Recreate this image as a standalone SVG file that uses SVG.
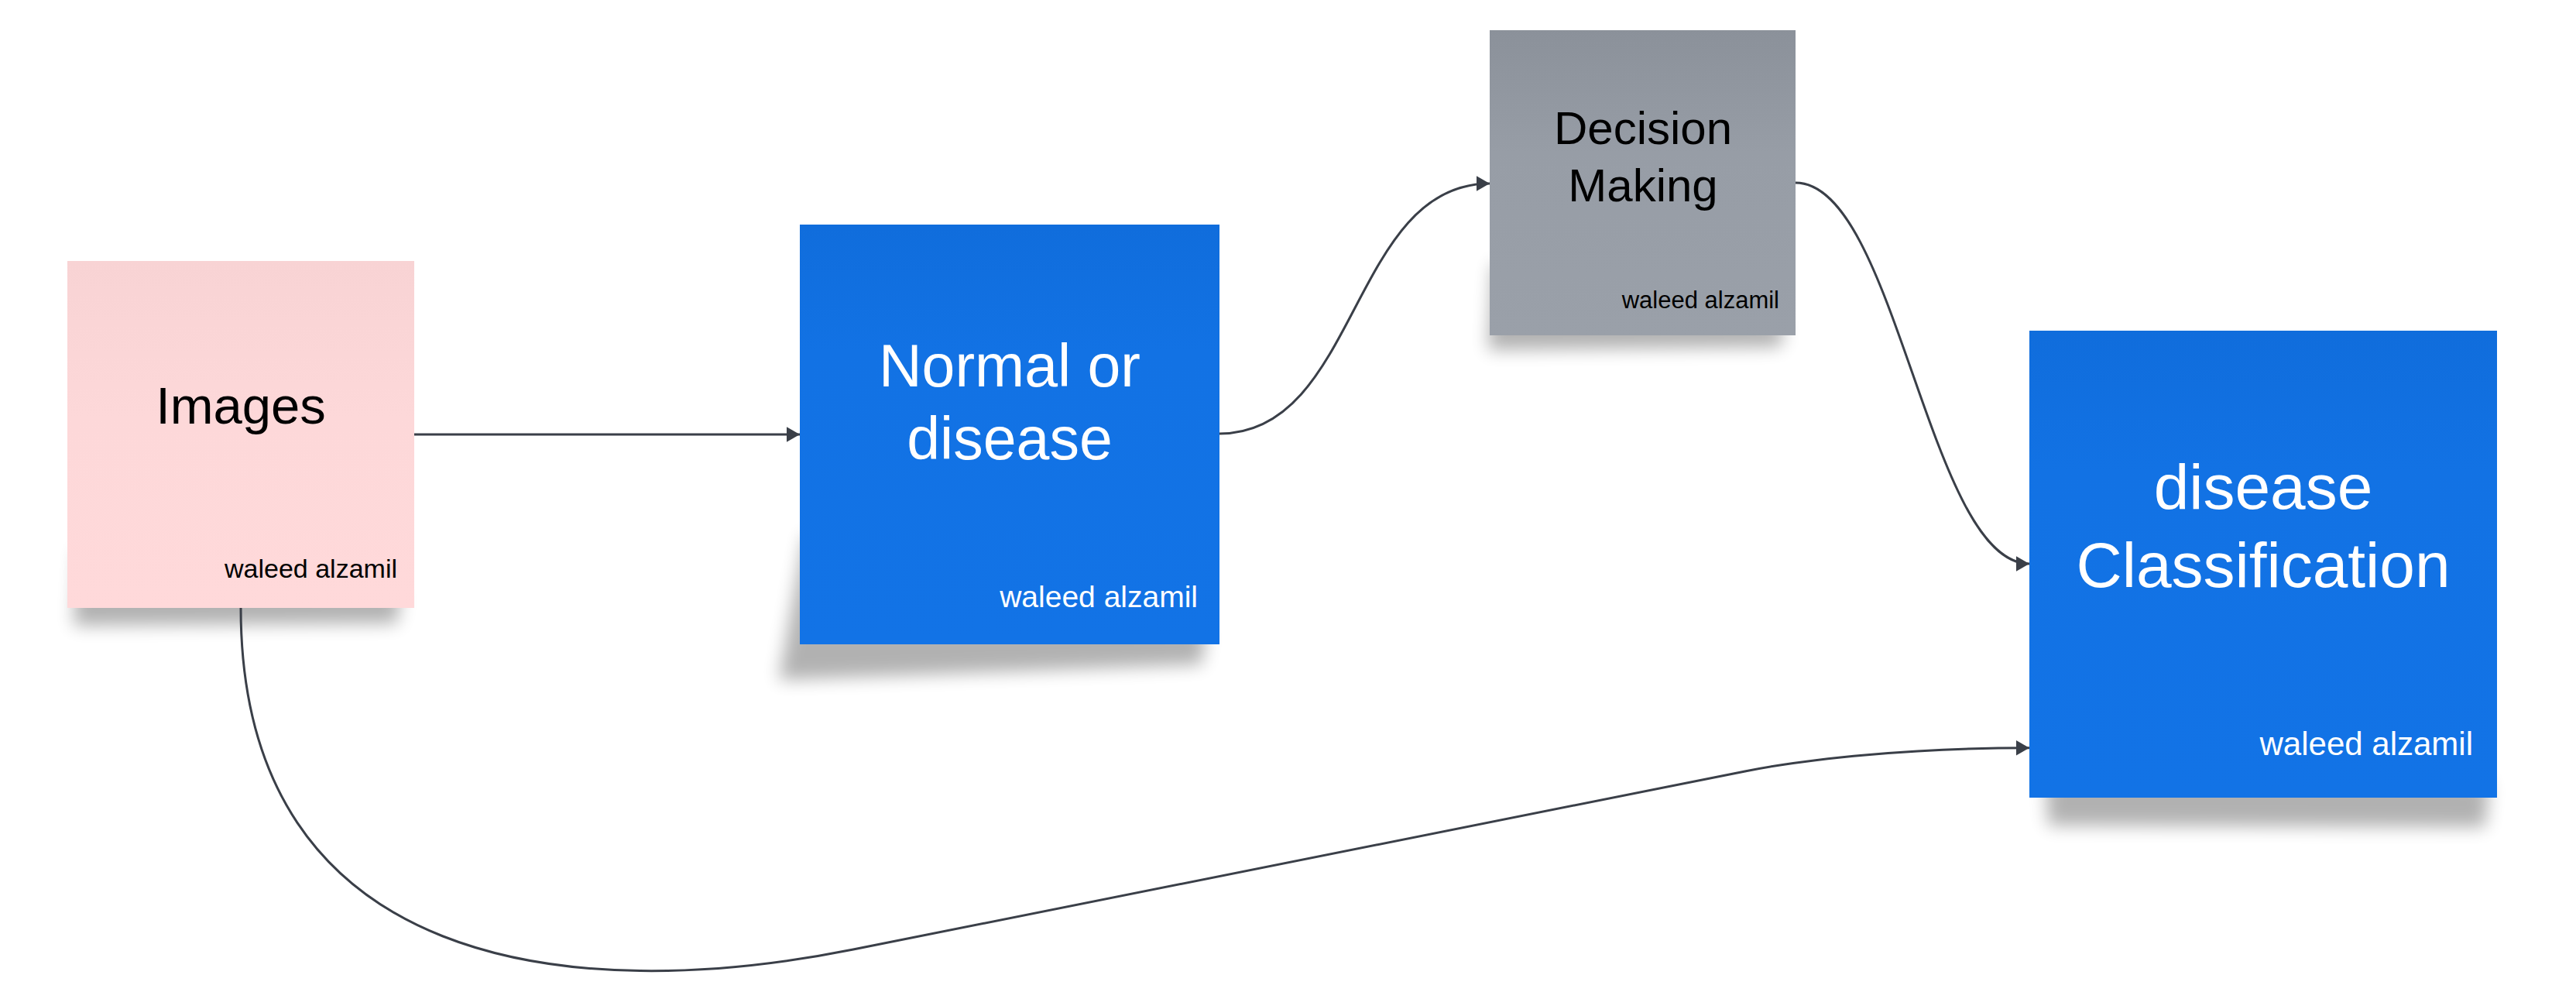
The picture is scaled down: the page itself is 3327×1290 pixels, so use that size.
<svg xmlns="http://www.w3.org/2000/svg" width="3327" height="1290" viewBox="0 0 3327 1290">
<style>
.conn{fill:none;stroke:#3a3f48;stroke-width:3;}
.t{font-family:"Liberation Sans",Arial,sans-serif;}
.dark{fill:#000000;}
.light{fill:#ffffff;}
.shadow{fill:#000000;opacity:0.3;filter:url(#blur);}
</style>
<defs>
<filter id="blur" x="-20%" y="-50%" width="140%" height="200%"><feGaussianBlur stdDeviation="11"/></filter>
<linearGradient id="gPink" x1="0" y1="0" x2="0" y2="1"><stop offset="0" stop-color="#f8d3d4"/><stop offset="0.45" stop-color="#fdd8d9"/><stop offset="1" stop-color="#ffd9da"/></linearGradient>
<linearGradient id="gBlue" x1="0" y1="0" x2="0" y2="1"><stop offset="0" stop-color="#106ddc"/><stop offset="0.3" stop-color="#1272e4"/><stop offset="1" stop-color="#1273e6"/></linearGradient>
<linearGradient id="gGrey" x1="0" y1="0" x2="0" y2="1"><stop offset="0" stop-color="#8b919a"/><stop offset="0.4" stop-color="#979da6"/><stop offset="1" stop-color="#9aa0a9"/></linearGradient>
<marker id="arrow" markerUnits="userSpaceOnUse" markerWidth="18" markerHeight="20" refX="17" refY="9.7" orient="auto" viewBox="0 0 18 20"><path d="M0,0 L17,9.7 L0,19.4 Z" fill="#3a3f48"/></marker>
</defs>
<rect x="0" y="0" width="3327" height="1290" fill="#ffffff"/>

<g id="node-images">
<path class="shadow" d="M100,710 L518,765 L513,805 L95,808 Z"/>
<rect x="87" y="337" width="448" height="448" fill="url(#gPink)"/>
<text class="t dark" x="311" y="547" font-size="67" text-anchor="middle">Images</text>
<text class="t dark" x="513" y="746" font-size="34" text-anchor="end">waleed alzamil</text>
</g>

<g id="node-normal">
<path class="shadow" d="M1040,690 L1558,815 L1552,858 L1006,878 Z"/>
<rect x="1033" y="290" width="542" height="542" fill="url(#gBlue)"/>
<text class="t light" x="1304" y="499" font-size="77" text-anchor="middle">Normal or</text>
<text class="t light" x="1304" y="593" font-size="77" text-anchor="middle">disease</text>
<text class="t light" x="1547" y="784" font-size="39" text-anchor="end">waleed alzamil</text>
</g>

<g id="node-decision">
<path class="shadow" d="M1928,340 L2305,420 L2300,448 L1922,452 Z"/>
<rect x="1924" y="39" width="395" height="394" fill="url(#gGrey)"/>
<text class="t dark" x="2122" y="186" font-size="60" text-anchor="middle">Decision</text>
<text class="t dark" x="2122" y="260" font-size="60" text-anchor="middle">Making</text>
<text class="t dark" x="2298" y="398" font-size="31" text-anchor="end">waleed alzamil</text>
</g>

<g id="node-classification">
<path class="shadow" d="M2640,960 L3215,1010 L3210,1068 L2645,1066 Z"/>
<rect x="2621" y="427" width="604" height="603" fill="url(#gBlue)"/>
<text class="t light" x="2923" y="657" font-size="82" text-anchor="middle">disease</text>
<text class="t light" x="2923" y="758" font-size="82" text-anchor="middle">Classification</text>
<text class="t light" x="3194" y="975" font-size="42" text-anchor="end">waleed alzamil</text>
</g>

<g id="connectors">
<path class="conn" d="M535,561 L1033,561" marker-end="url(#arrow)"/>
<path class="conn" d="M1575,560 C1755,560 1744,237 1924,237" marker-end="url(#arrow)"/>
<path class="conn" d="M2319,236 C2449,236 2491,728 2621,728" marker-end="url(#arrow)"/>
<path class="conn" d="M311,785 C311,1255 742,1298 1102,1226 L2255,995.7 C2335,979.7 2471,965.7 2621,965.7" marker-end="url(#arrow)"/>
</g>
</svg>
